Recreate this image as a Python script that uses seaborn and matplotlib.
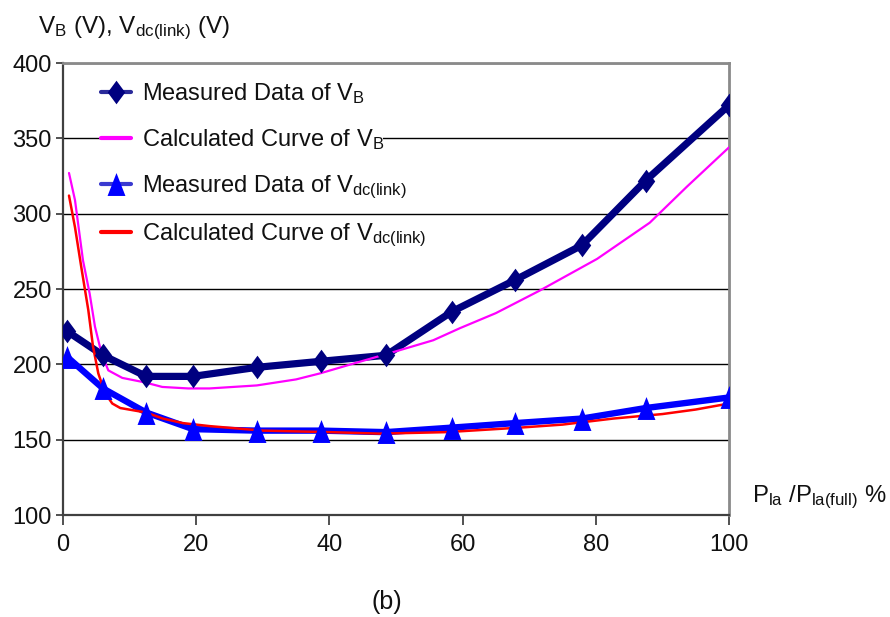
import numpy as np
import pandas as pd
import matplotlib
matplotlib.use("Agg")
import matplotlib.pyplot as plt
from matplotlib.path import Path
from matplotlib.lines import Line2D
from matplotlib.patches import Rectangle
import seaborn as sns

# Measured points (load power in % of full load)
load_meas = [0.6, 6.0, 12.5, 19.5, 29.1, 38.7, 48.5, 58.4, 67.9, 77.9, 87.5, 100]
vb_meas = [222, 206, 192, 192, 198, 202, 206, 235, 256, 279, 322, 372]
vdc_meas = [205, 184, 168, 157, 156, 156, 155, 158, 161, 164, 171, 178]

# Calculated curves
load_calc_vb = [0.9, 1.8, 3.0, 4.0, 4.8, 5.8, 6.8, 8.9, 12.3, 14.9, 18.8, 22.0,
                29.1, 35.0, 38.6, 44.0, 49.5, 55.6, 59.6, 65.0, 71.6, 80.2,
                88.1, 93.7, 100]
vb_calc = [327, 309, 269, 247, 225, 207, 196, 191, 188, 185, 184, 184,
           186, 190, 194, 201, 208, 216, 224, 234, 249, 270,
           294, 318, 344]
load_calc_vdc = [0.9, 1.8, 2.8, 3.8, 4.5, 5.3, 6.3, 7.4, 8.6, 12.5, 15.0,
                 18.0, 22.0, 30.0, 40.0, 47.6, 57.6, 68.6, 75.0, 82.6, 90.0,
                 95.0, 100]
vdc_calc = [312, 291, 263, 236, 212, 194, 181, 174, 171, 168, 164,
            161, 159, 156, 155, 154, 155, 158, 160, 164, 167,
            170, 174]

labels = [r"Measured Data of V$_\mathrm{B}$",
          r"Calculated Curve of V$_\mathrm{B}$",
          r"Measured Data of V$_\mathrm{dc(link)}$",
          r"Calculated Curve of V$_\mathrm{dc(link)}$"]
x_ticks = [0, 20, 40, 60, 80, 100]
y_ticks = [100, 150, 200, 250, 300, 350, 400]

meas = pd.DataFrame({"load": load_meas, "vb": vb_meas, "vdc": vdc_meas})
calc_vb = pd.DataFrame({"load": load_calc_vb, "v": vb_calc})
calc_vdc = pd.DataFrame({"load": load_calc_vdc, "v": vdc_calc})

sns.set_theme(style="white")
plt.rcParams["font.family"] = ["Liberation Sans", "DejaVu Sans"]
plt.rcParams["mathtext.fontset"] = "custom"
plt.rcParams["mathtext.rm"] = "Liberation Sans"
plt.rcParams["mathtext.it"] = "Liberation Sans:italic"
plt.rcParams["mathtext.bf"] = "Liberation Sans:bold"

NAVY = "#000080"
BLUE = "#0000ff"
MAGENTA = "#ff00ff"
RED = "#ff0000"
TXT = "#111111"

diamond = Path([(0, 1), (0.74, 0), (0, -1), (-0.74, 0), (0, 1)],
               [Path.MOVETO, Path.LINETO, Path.LINETO, Path.LINETO, Path.CLOSEPOLY])
triangle = Path([(0, 1), (0.78, -1), (-0.78, -1), (0, 1)],
                [Path.MOVETO, Path.LINETO, Path.LINETO, Path.CLOSEPOLY])

fig = plt.figure(figsize=(8.9, 6.17), dpi=100)
ax = fig.add_axes([63 / 890, 1 - 515 / 617, 666 / 890, 452 / 617])

# lines
sns.lineplot(data=meas, x="load", y="vb", color=NAVY, linewidth=5.2, ax=ax,
             zorder=3, solid_joinstyle="round")
sns.lineplot(data=calc_vb, x="load", y="v", color=MAGENTA, linewidth=1.6, ax=ax,
             zorder=3.1)
sns.lineplot(data=meas, x="load", y="vdc", color=BLUE, linewidth=4.6, ax=ax,
             zorder=3.2, solid_joinstyle="round")
sns.lineplot(data=calc_vdc, x="load", y="v", color=RED, linewidth=1.8, ax=ax,
             zorder=3.3)

# markers on top
ax.plot(meas["load"], meas["vb"], linestyle="none", marker=diamond,
        markersize=17, color=NAVY, markeredgewidth=0, zorder=4)
ax.plot(meas["load"], meas["vdc"], linestyle="none", marker=triangle,
        markersize=16.5, color=BLUE, markeredgewidth=0, zorder=4)

ax.set_xlim(0, 100)
ax.set_ylim(100, 400)
ax.set_xticks(x_ticks)
ax.set_yticks(y_ticks)
ax.set_xlabel("")
ax.set_ylabel("")
ax.tick_params(axis="x", direction="out", length=7, width=1.2, pad=7,
               labelsize=17, color="#333333", labelcolor=TXT, bottom=True)
ax.tick_params(axis="y", direction="out", length=5, width=1.2, pad=3,
               labelsize=17, color="#333333", labelcolor=TXT, left=True)

ax.set_axisbelow(True)
ax.yaxis.grid(True, color="black", linewidth=1.0, zorder=0.5)
ax.xaxis.grid(False)
for side in ["left", "bottom"]:
    ax.spines[side].set_color("#404040")
    ax.spines[side].set_linewidth(1.6)
for side in ["top", "right"]:
    ax.spines[side].set_color("#8a8a8a")
    ax.spines[side].set_linewidth(2.0)

# white strip behind the second legend entry
ax.add_patch(Rectangle((0.081, 0.79), 0.40, 0.07, transform=ax.transAxes,
                       facecolor="white", edgecolor="none", zorder=2))

handles = [
    Line2D([], [], color="#2a2a9a", linewidth=3, marker=diamond, markersize=17,
           markerfacecolor=NAVY, markeredgewidth=0),
    Line2D([], [], color=MAGENTA, linewidth=3),
    Line2D([], [], color="#3a3ad0", linewidth=3, marker=triangle, markersize=16.5,
           markerfacecolor=BLUE, markeredgewidth=0),
    Line2D([], [], color=RED, linewidth=3),
]
leg = ax.legend(handles, labels, loc="upper left",
                bbox_to_anchor=(101 / 890, 1 - 81 / 617),
                bbox_transform=fig.transFigure, frameon=False, fontsize=17,
                handlelength=1.25, handletextpad=0.5, labelspacing=0.9,
                borderpad=0, borderaxespad=0)
for t in leg.get_texts():
    t.set_color(TXT)
leg.set_zorder(5)

fig.text(38 / 890, 1 - 33 / 617,
         r"V$_\mathrm{B}$ (V), V$_\mathrm{dc(link)}$ (V)",
         fontsize=17.5, va="baseline", ha="left", color=TXT)
fig.text(752 / 890, 1 - 502 / 617,
         r"P$_\mathrm{la}$ /P$_\mathrm{la(full)}$ %",
         fontsize=17.2, va="baseline", ha="left", color=TXT)
fig.text(387 / 890, 1 - 602 / 617, "(b)", fontsize=18, va="center", ha="center",
         color=TXT)

fig.savefig("out.png", dpi=100, facecolor="white")
